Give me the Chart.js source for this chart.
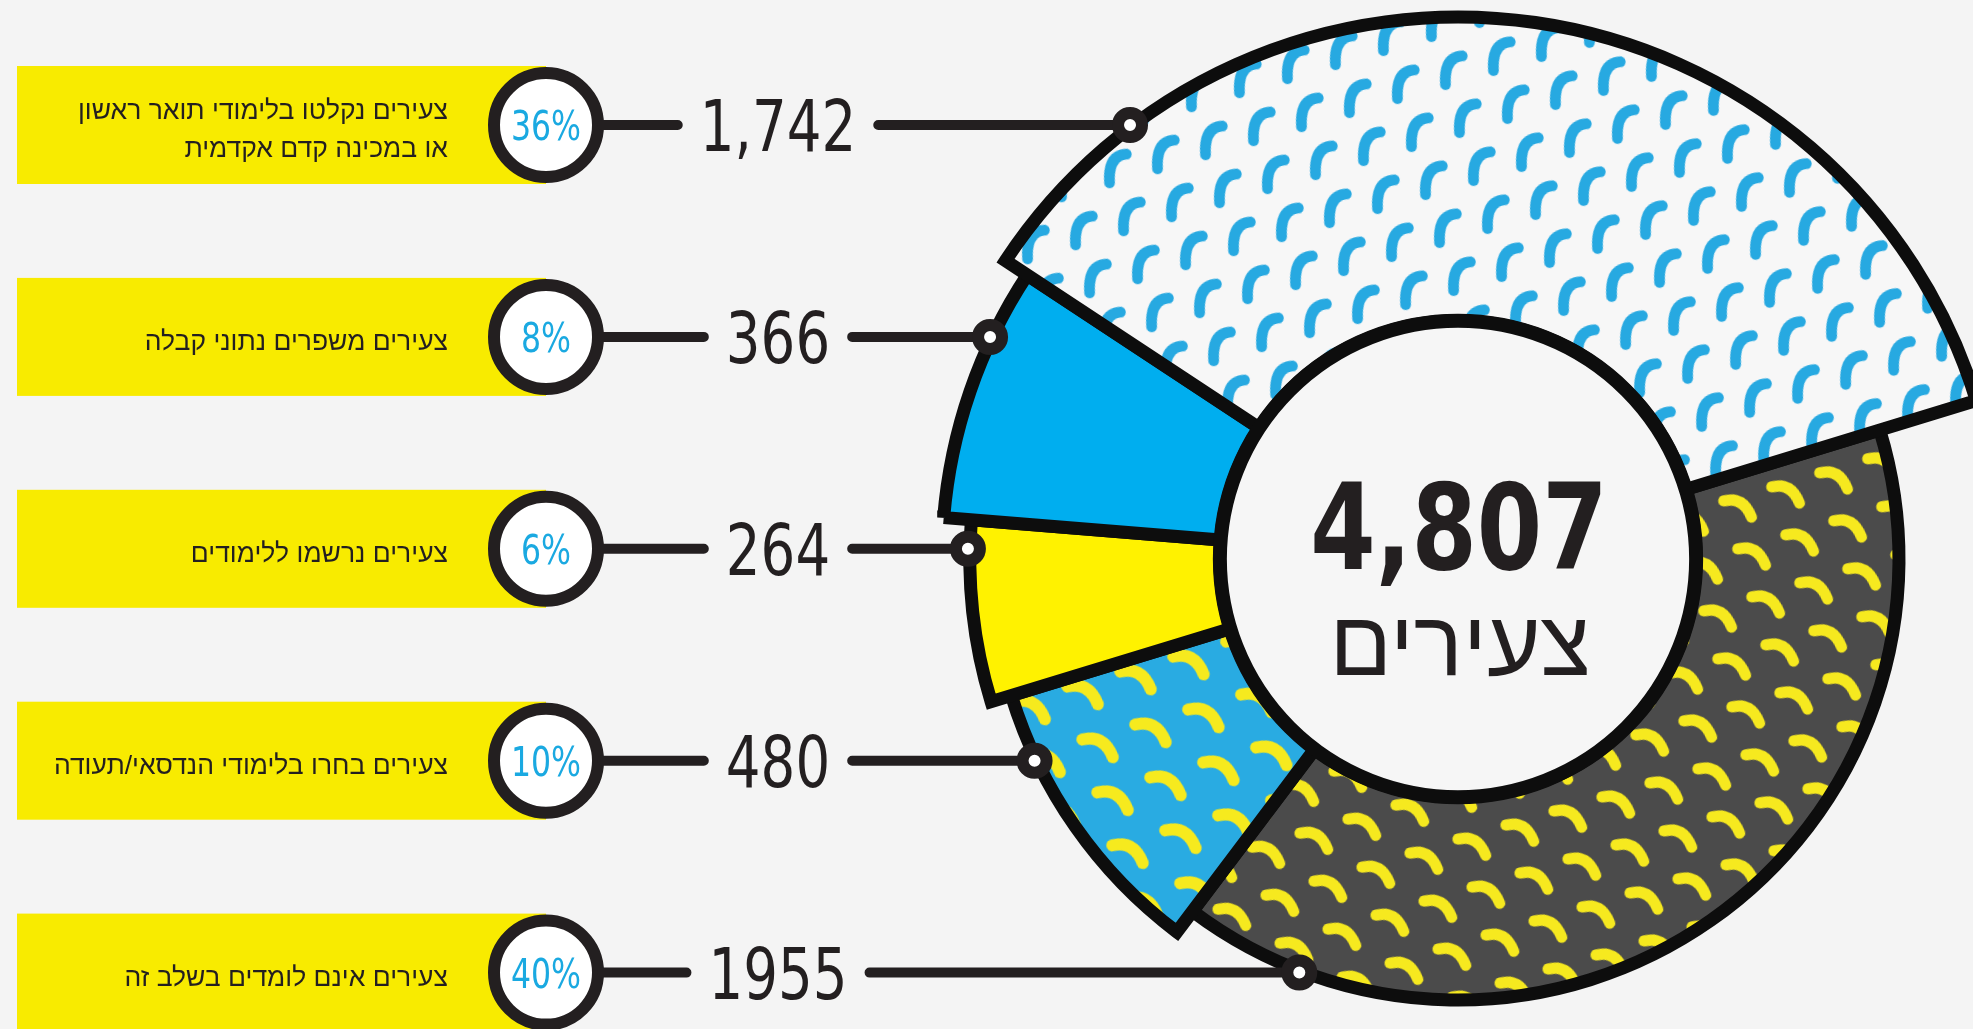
<!DOCTYPE html>
<html lang="he">
<head>
<meta charset="utf-8">
<script src="https://cdn.jsdelivr.net/npm/chart.js@4.4.1/dist/chart.umd.min.js"></script>
<style>
html,body{margin:0;padding:0;width:1973px;height:1029px;overflow:hidden;background:#f4f4f4;}
#wrap{position:relative;width:1973px;height:1029px;}
#c{position:absolute;left:0;top:0;width:1973px;height:1029px;}
.lbl{position:absolute;right:1525px;direction:rtl;text-align:right;font-family:"Liberation Sans","DejaVu Sans",sans-serif;font-size:26.5px;line-height:38px;color:#231f20;white-space:nowrap;transform:translateY(-50%);}
.pct,.num,.tot,.sub{position:absolute;line-height:1;white-space:nowrap;text-align:center;}
.pct{font-family:"DejaVu Sans",sans-serif;font-size:41px;color:#1aa9e1;transform:translate(-50%,-50%) scaleX(0.77);}
.num{font-family:"DejaVu Sans",sans-serif;font-size:71px;color:#231f20;transform:translate(-50%,-50%) scaleX(0.77);}
.tot{font-family:"DejaVu Sans",sans-serif;font-weight:bold;font-size:119px;color:#231f20;transform:translate(-50%,-50%) scaleX(0.79);}
.sub{font-family:"Liberation Sans","DejaVu Sans",sans-serif;font-size:92px;color:#231f20;direction:rtl;transform:translate(-50%,-50%);}
</style>
</head>
<body>
<div id="wrap"><canvas id="c" width="1973" height="1029"></canvas></div>
<script>
// ---- data (legend order, top to bottom) ----
const categories = [
  ['צעירים נקלטו בלימודי תואר ראשון', 'או במכינה קדם אקדמית'],
  ['צעירים משפרים נתוני קבלה'],
  ['צעירים נרשמו ללימודים'],
  ['צעירים בחרו בלימודי הנדסאי/תעודה'],
  ['צעירים אינם לומדים בשלב זה']
];
const percents = [36, 8, 6, 10, 40];
const counts = [1742, 366, 264, 480, 1955];
const centerWord = 'צעירים';

// ---- styling ----
const radiusScale = [1.229, 1.170, 1.107, 1.059, 1.0];
const rowTop = 125, rowGap = 211.9;
const numCenterX = 778, pctCenterX = 546, pctR = 52, boxLeft = 17, boxHalf = 59;
const ink = '#231f20';

const canvas = document.getElementById('c');
const ctx = canvas.getContext('2d');

function makePattern(bg, fg, size, angleDeg, pts, lw, scale) {
  const t = document.createElement('canvas');
  t.width = t.height = size;
  const g = t.getContext('2d');
  g.fillStyle = bg; g.fillRect(0, 0, size, size);
  g.translate(size / 2, size / 2);
  g.rotate(-angleDeg * Math.PI / 180);
  g.scale(scale, scale);
  g.strokeStyle = fg; g.lineWidth = lw; g.lineCap = 'round';
  g.beginPath();
  g.moveTo(pts[0], pts[1]);
  g.quadraticCurveTo(pts[2], pts[3], pts[4], pts[5]);
  g.stroke();
  const p = ctx.createPattern(t, 'repeat');
  p.setTransform(new DOMMatrix().rotate(angleDeg));
  return p;
}
const hook = [-7, 13.5, -8.5, -12, 8.5, -13];
const arch = [-13, -6.5, 5.6, -11.2, 13.5, 9];
const fills = [
  makePattern('#f7f7f7', '#27a9e1', 50, -16.3, hook, 10, 1.08),
  '#00aeef',
  '#fff200',
  makePattern('#29abe2', '#f6ea1e', 55, -15.8, arch, 10.5, 1.15),
  makePattern('#4b4b4b', '#f6e91f', 50, -16.3, arch, 10.5, 1.05)
];

const chartOrder = [4, 3, 2, 1, 0];

const rowY = i => rowTop + rowGap * i;

const bgPlugin = {
  id: 'bg',
  beforeDraw(chart) {
    const c = chart.ctx;
    c.save();
    c.fillStyle = '#f4f4f4';
    c.fillRect(0, 0, chart.width, chart.height);
    categories.forEach((_, i) => {
      const y = rowY(i);
      c.fillStyle = '#f8eb00';
      c.fillRect(boxLeft, y - boxHalf, pctCenterX - boxLeft, boxHalf * 2);
      c.beginPath();
      c.arc(pctCenterX, y, pctR, 0, Math.PI * 2);
      c.fillStyle = '#ffffff';
      c.fill();
      c.lineWidth = 12;
      c.strokeStyle = ink;
      c.stroke();
    });
    c.restore();
  }
};

const radiusPlugin = {
  id: 'radii',
  afterDatasetUpdate(chart, args) {
    const meta = args.meta;
    const base = meta.controller.outerRadius;
    meta.data.forEach((arc, j) => {
      arc.outerRadius = base * radiusScale[chartOrder[j]];
    });
  }
};

const fmt = (n, i) => i === 4 ? String(n) : n.toLocaleString('en-US');

const overlayPlugin = {
  id: 'overlay',
  afterDatasetsDraw(chart) {
    const c = chart.ctx;
    const meta = chart.getDatasetMeta(0);
    const a0 = meta.data[0];
    c.save();
    // centre disc
    c.beginPath();
    c.arc(a0.x, a0.y, a0.innerRadius, 0, Math.PI * 2);
    c.fillStyle = '#f6f6f6';
    c.fill();
    c.lineWidth = 14;
    c.strokeStyle = '#0d0d0d';
    c.stroke();
    // leader lines and dots
    c.font = '71px "DejaVu Sans"';
    categories.forEach((_, i) => {
      const y = rowY(i);
      const arc = meta.data[chartOrder.indexOf(i)];
      const r = arc.outerRadius + 2;
      const dy = y - arc.y;
      const dotX = arc.x - Math.sqrt(Math.max(r * r - dy * dy, 0));
      const half = c.measureText(fmt(counts[i], i)).width * 0.77 / 2;
      c.strokeStyle = ink;
      c.lineWidth = 10;
      c.lineCap = 'round';
      c.beginPath();
      c.moveTo(pctCenterX + pctR + 4, y);
      c.lineTo(numCenterX - half - 22, y);
      c.moveTo(numCenterX + half + 22, y);
      c.lineTo(dotX, y);
      c.stroke();
      c.beginPath();
      c.arc(dotX, y, 12, 0, Math.PI * 2);
      c.fillStyle = '#ffffff';
      c.fill();
      c.lineWidth = 12;
      c.stroke();
    });
    c.restore();
  }
};

new Chart(ctx, {
  type: 'doughnut',
  data: {
    labels: chartOrder.map(i => categories[i].join(' ')),
    datasets: [{
      data: chartOrder.map(i => percents[i]),
      backgroundColor: chartOrder.map(i => fills[i]),
      borderColor: '#0d0d0d',
      borderWidth: 13,
      borderJoinStyle: 'miter',
      borderAlign: 'center'
    }]
  },
  options: {
    responsive: false,
    devicePixelRatio: 1,
    animation: false,
    events: [],
    rotation: 73,
    cutout: '54%',
    radius: 441,
    layout: { padding: { left: 943, right: 0, top: 89, bottom: 0 } },
    plugins: { legend: { display: false }, tooltip: { enabled: false } }
  },
  plugins: [bgPlugin, radiusPlugin, overlayPlugin]
});

// ---- text ----
const wrap = document.getElementById('wrap');
function addDiv(cls, html, x, y) {
  const d = document.createElement('div');
  d.className = cls;
  d.innerHTML = html;
  if (x !== null) d.style.left = x + 'px';
  d.style.top = y + 'px';
  wrap.appendChild(d);
  return d;
}
categories.forEach((lines, i) => {
  const y = rowY(i);
  addDiv('lbl', lines.join('<br>'), null, y + 4);
  addDiv('pct', percents[i] + '%', pctCenterX, y + 1);
  addDiv('num', fmt(counts[i], i), numCenterX, y + 1);
});
const total = counts.reduce((a, b) => a + b, 0);
addDiv('tot', total.toLocaleString('en-US'), 1459, 528);
addDiv('sub', centerWord, 1460, 643);
</script>
</body>
</html>
